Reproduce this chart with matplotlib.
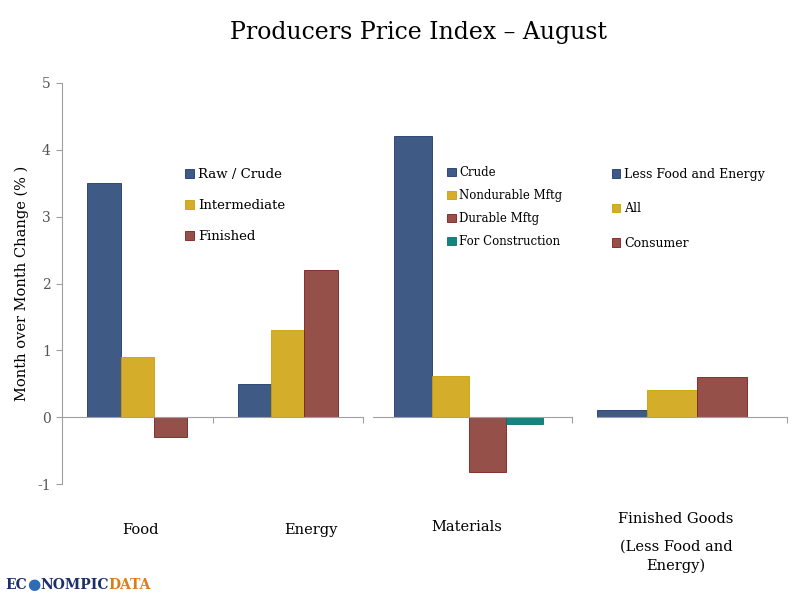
import numpy as np
import matplotlib.pyplot as plt

# data
food_energy_cats = ["Food", "Energy"]
food_energy_series = ["Raw / Crude", "Intermediate", "Finished"]
food_energy_vals = [[3.5, 0.5], [0.9, 1.3], [-0.3, 2.2]]

materials_series = ["Crude", "Nondurable Mftg", "Durable Mftg", "For Construction"]
materials_vals = [4.2, 0.62, -0.82, -0.1]

finished_series = ["Less Food and Energy", "All", "Consumer"]
finished_vals = [0.1, 0.4, 0.6]

yticks = [-1, 0, 1, 2, 3, 4, 5]

blue = "#3F5A85"
gold = "#D4AE2B"
red = "#955049"
teal = "#168380"
edges_c = {blue: "#1F3870", gold: "#C9A000", red: "#7A1E1A", teal: "#0B6F6C"}
grey = "#A0A0A0"

plt.rcParams["font.family"] = "DejaVu Serif"

fig = plt.figure(figsize=(8, 6), dpi=100)
W, H = 800.0, 600.0


def add_ax(x0, x1, y0=83, y1=484):
    return fig.add_axes([x0 / W, 1 - y1 / H, (x1 - x0) / W, (y1 - y0) / H])


def style(ax, ncats, show_y):
    ax.set_ylim(-1, 5)
    ax.set_xlim(-0.5, ncats - 0.5)
    for s in ["top", "right"]:
        ax.spines[s].set_visible(False)
    ax.spines["bottom"].set_position(("data", 0))
    ax.spines["bottom"].set_color(grey)
    ax.spines["left"].set_color(grey)
    ax.set_xticks(np.arange(ncats) + 0.5)
    ax.set_xticklabels([])
    ax.tick_params(axis="x", direction="out", length=4, color=grey)
    if show_y:
        ax.set_yticks(yticks)
        ax.set_yticklabels([str(t) for t in yticks], color="#555555", fontsize=10)
        ax.tick_params(axis="y", direction="out", length=4, color=grey, pad=4)
    else:
        ax.spines["left"].set_visible(False)
        ax.set_yticks([])
    ax.patch.set_alpha(0)


leg_kw = dict(loc="upper left", frameon=False, handlelength=0.7, handleheight=0.7,
              handletextpad=0.3, borderaxespad=0)
colors3 = [blue, gold, red]
colors4 = [blue, gold, red, teal]

# panel 1: food and energy
ax1 = add_ax(62, 363)
w = 2.0 / 9
x = np.arange(len(food_energy_cats))
for i, (name, vals) in enumerate(zip(food_energy_series, food_energy_vals)):
    ax1.bar(x + (i - 1) * w, vals, w, color=colors3[i], edgecolor=edges_c[colors3[i]],
            linewidth=0.6, label=name)
style(ax1, len(food_energy_cats), True)
ax1.set_ylabel("Month over Month Change (% )", fontsize=10.5, labelpad=6)
ax1.legend(bbox_to_anchor=(0.39, 0.80), fontsize=9.5, labelspacing=1.35, **leg_kw)

# panel 2: materials
ax2 = add_ax(373, 572)
w2 = 0.186
for i, (name, v) in enumerate(zip(materials_series, materials_vals)):
    ax2.bar([(i - 1.5) * w2 - 0.02], [v], w2, color=colors4[i], edgecolor=edges_c[colors4[i]],
            linewidth=0.6, label=name)
style(ax2, 1, False)
ax2.legend(bbox_to_anchor=(0.35, 0.805), fontsize=8.5, labelspacing=0.85, **leg_kw)

# panel 3: finished goods
ax3 = add_ax(597, 787)
w3 = 0.263
for i, (name, v) in enumerate(zip(finished_series, finished_vals)):
    ax3.bar([-0.5 + w3 / 2 + i * w3], [v], w3, color=colors3[i], edgecolor=edges_c[colors3[i]],
            linewidth=0.6, label=name)
style(ax3, 1, False)
ax3.legend(bbox_to_anchor=(0.05, 0.80), fontsize=9, labelspacing=1.7, **leg_kw)

# category labels
cat_txt = dict(ha="center", va="center", fontsize=10.5, color="black")
fig.text(140 / W, 1 - 530 / H, "Food", **cat_txt)
fig.text(311 / W, 1 - 530 / H, "Energy", **cat_txt)
fig.text(467 / W, 1 - 527 / H, "Materials", **cat_txt)
fig.text(676 / W, 1 - 519 / H, "Finished Goods", **cat_txt)
fig.text(676 / W, 1 - 547 / H, "(Less Food and", **cat_txt)
fig.text(676 / W, 1 - 566 / H, "Energy)", **cat_txt)

fig.text(418 / W, 1 - 33 / H, "Producers Price Index \u2013 August", ha="center", va="center",
         fontsize=17, color="black")

# logo, pieces chained one after the other
logo = dict(va="center", fontsize=10, fontweight="bold", family="DejaVu Serif")
t0 = fig.text(5 / W, 1 - 585 / H, "EC", color="#1B2F6B", **logo)
g = fig.add_artist(plt.matplotlib.text.Annotation(
    "\u25CF", xy=(1, 0.5), xycoords=t0, va="center", ha="left", fontsize=11,
    color="#2E6DB4", annotation_clip=False))
n = fig.add_artist(plt.matplotlib.text.Annotation(
    "NOMPIC", xy=(1, 0.5), xycoords=g, ha="left", color="#1B2F6B", **logo))
fig.add_artist(plt.matplotlib.text.Annotation(
    "DATA", xy=(1, 0.5), xycoords=n, ha="left", color="#E07B1A", **logo))

fig.savefig("out.png", dpi=100)
